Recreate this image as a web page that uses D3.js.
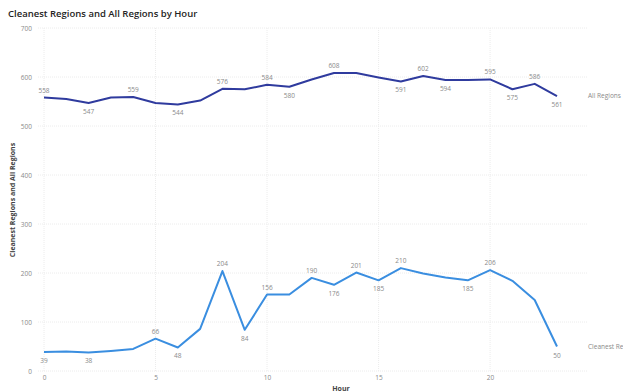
<!DOCTYPE html>
<html lang="en">
<head>
<meta charset="UTF-8">
<title>Cleanest Regions and All Regions by Hour</title>
<script src="https://d3js.org/d3.v7.min.js"></script>
<style>
  body { margin: 0; background: #fff; font-family: "Segoe UI", "Open Sans", Arial, sans-serif; }
  svg { display: block; }
</style>
</head>
<body>
<div id="chart"></div>
<script>
// hours 0..23
const hours = d3.range(0, 24);
const allRegions = [558, 555, 547, 558, 559, 547, 544, 552, 576, 575, 584, 580,
                    595, 608, 608, 599, 591, 602, 594, 594, 595, 575, 586, 561];
const cleanest = [39, 40, 38, 41, 45, 66, 48, 86, 204, 84, 156, 156,
                  190, 176, 201, 185, 210, 199, 191, 185, 206, 184, 145, 50];

// which points carry a data label, and on which side
const allLabels = [[0, "up"], [2, "down"], [4, "up"], [6, "down"], [8, "up"], [10, "up"], [11, "down"],
                   [13, "up"], [16, "down"], [17, "up"], [18, "down"], [20, "up"], [21, "down"], [22, "up"], [23, "down"]];
const cleanLabels = [[0, "down"], [2, "down"], [5, "up"], [6, "down"], [8, "up"], [9, "down"], [10, "up"],
                     [12, "up"], [13, "down"], [14, "up"], [15, "down"], [16, "up"], [19, "down"], [20, "up"], [23, "down"]];

const yTicks = [0, 100, 200, 300, 400, 500, 600, 700];
const xTicks = [0, 5, 10, 15, 20];

const width = 623, height = 392;
const x = d3.scaleLinear().domain([0, 23]).range([44, 557]);
const y = d3.scaleLinear().domain([0, 700]).range([371, 28]);
const gridRight = 588;

const svg = d3.select("#chart").append("svg")
    .attr("width", width)
    .attr("height", height);

svg.append("text")
    .attr("x", 8).attr("y", 17)
    .attr("font-size", 9.5).attr("font-weight", 600)
    .attr("fill", "#252423")
    .text("Cleanest Regions and All Regions by Hour");

// gridlines
svg.append("g").selectAll("line")
    .data(yTicks)
    .enter().append("line")
    .attr("x1", 38).attr("x2", gridRight)
    .attr("y1", d => y(d)).attr("y2", d => y(d))
    .attr("stroke", "#ececec").attr("stroke-width", 1)
    .attr("stroke-dasharray", "1,1");

svg.append("g").selectAll("line")
    .data(xTicks)
    .enter().append("line")
    .attr("x1", d => x(d)).attr("x2", d => x(d))
    .attr("y1", y(700)).attr("y2", y(0))
    .attr("stroke", "#ececec").attr("stroke-width", 1)
    .attr("stroke-dasharray", "1,1");

// axes (text only, Power BI style)
const yAxis = svg.append("g")
    .attr("transform", "translate(32,0)")
    .call(d3.axisLeft(y).tickValues(yTicks).tickSize(0).tickPadding(0));
yAxis.select(".domain").remove();
yAxis.selectAll("text").attr("font-size", 6.5).attr("fill", "#8a8a8a")
    .attr("font-family", "\"Segoe UI\", \"Open Sans\", Arial, sans-serif");

const xAxis = svg.append("g")
    .attr("transform", "translate(0,375)")
    .call(d3.axisBottom(x).tickValues(xTicks).tickSize(0).tickPadding(0));
xAxis.select(".domain").remove();
xAxis.selectAll("text").attr("font-size", 6.5).attr("fill", "#8a8a8a")
    .attr("font-family", "\"Segoe UI\", \"Open Sans\", Arial, sans-serif");

// axis titles
svg.append("text")
    .attr("x", 341).attr("y", 391)
    .attr("text-anchor", "middle")
    .attr("font-size", 7).attr("font-weight", 700).attr("fill", "#444")
    .text("Hour");

svg.append("text")
    .attr("transform", "translate(15,200) rotate(-90)")
    .attr("text-anchor", "middle")
    .attr("font-size", 7).attr("font-weight", 700).attr("fill", "#444")
    .text("Cleanest Regions and All Regions");

const line = d3.line().x((d, i) => x(hours[i])).y(d => y(d));

function drawSeries(values, labels, color, name) {
    svg.append("path")
        .datum(values)
        .attr("fill", "none")
        .attr("stroke", color)
        .attr("stroke-width", 2)
        .attr("stroke-linejoin", "round")
        .attr("d", line);

    svg.append("g").selectAll("text")
        .data(labels)
        .enter().append("text")
        .attr("x", d => x(d[0]))
        .attr("y", d => y(values[d[0]]) + (d[1] === "up" ? -5 : 11))
        .attr("text-anchor", "middle")
        .attr("font-size", 6.5).attr("fill", "#8a8a8a")
        .text(d => values[d[0]]);

    svg.append("text")
        .attr("x", gridRight).attr("y", y(values[values.length - 1]) + 2)
        .attr("font-size", 6.5).attr("fill", "#8a8a8a")
        .text(name);
}

drawSeries(allRegions, allLabels, "#2f3b9e", "All Regions");
drawSeries(cleanest, cleanLabels, "#3a8ee0", "Cleanest Regions");
</script>
</body>
</html>
